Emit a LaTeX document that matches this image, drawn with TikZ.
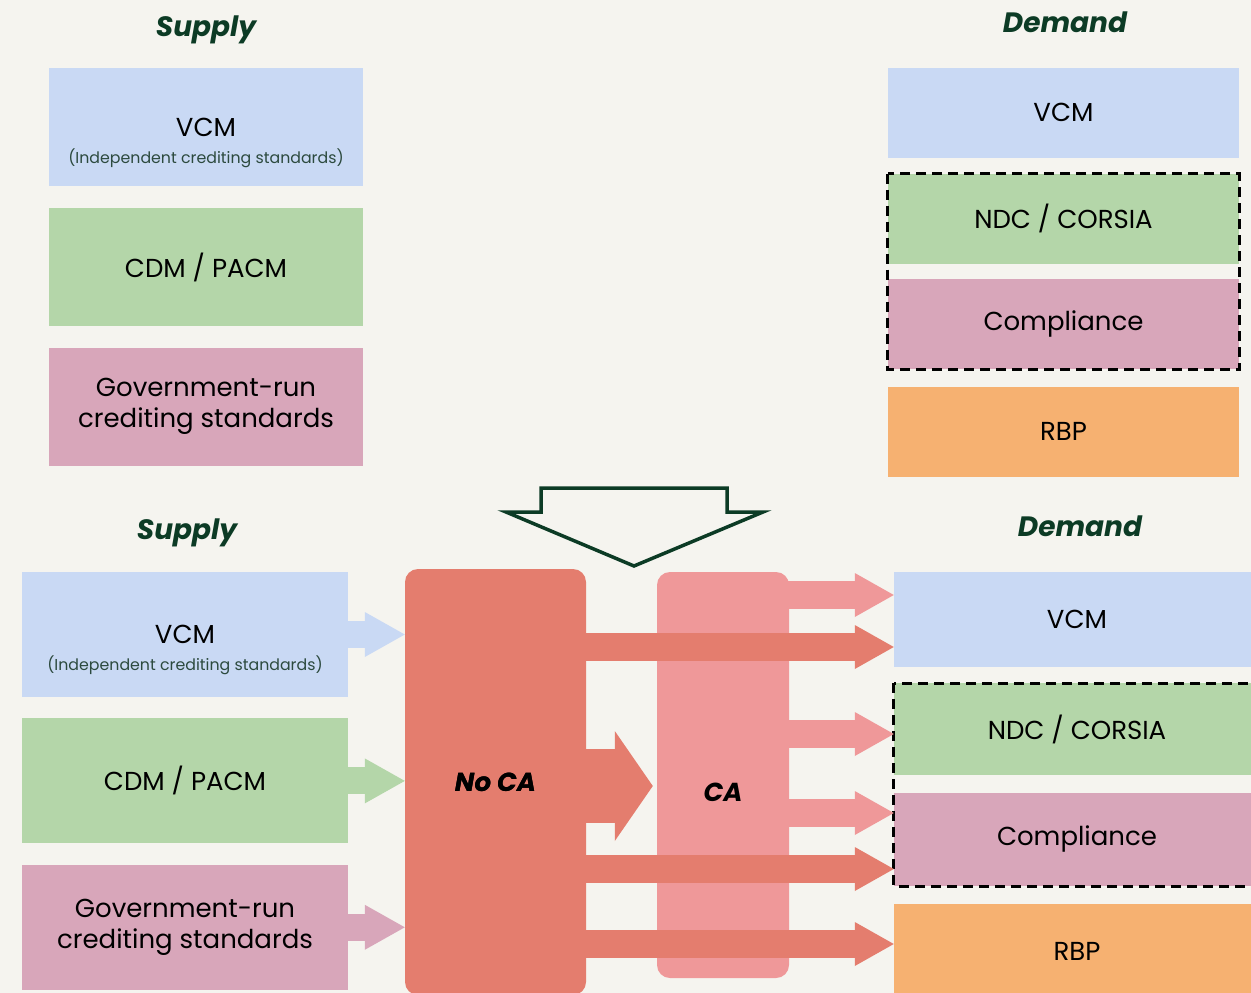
\documentclass[tikz,border=0pt]{standalone}
\usepackage{fontspec}
\setmainfont{Poppins}
\usetikzlibrary{positioning,arrows.meta}
\definecolor{mybg}{HTML}{F5F4EF}
\definecolor{myblue}{HTML}{C9D9F4}
\definecolor{mygreen}{HTML}{B4D6A9}
\definecolor{mypink}{HTML}{D8A6BA}
\definecolor{myorange}{HTML}{F6B171}
\definecolor{mysalmon}{HTML}{E47D6E}
\definecolor{myrose}{HTML}{EF9899}
\definecolor{mydark}{HTML}{0C3B25}
\definecolor{mysub}{HTML}{2C4A3E}

\begin{document}
\begin{tikzpicture}[x=1pt,y=-1pt,
  mkt/.style={rectangle,inner sep=0pt,align=center,font=\fontsize{26}{31}\selectfont},
  sbox/.style={mkt,minimum width=314pt,minimum height=118pt},
  dbox/.style={mkt,minimum width=351pt,minimum height=90pt},
  sbox2/.style={mkt,minimum width=326pt,minimum height=125pt},
  dbox2/.style={mkt,minimum width=366pt,minimum height=93pt},
  subtxt/.style={font=\fontsize{15.8}{19}\selectfont,text=mysub,yshift=-31pt},
  head/.style={font=\fontsize{28}{30}\selectfont\bfseries\itshape,text=mydark},
  block/.style={rectangle,rounded corners=13pt,inner sep=0pt,
    font=\fontsize{26}{30}\selectfont\bfseries\itshape},
  dashbox/.style={draw=black,line width=3pt,dash pattern=on 10pt off 6pt},
  flow/.style={line width=28pt,shorten <=-8pt,
    -{Triangle[length=39pt,width=44pt,line width=0pt]}},
  feed/.style={line width=27pt,-{Triangle[length=40pt,width=45pt,line width=0pt]}}]

  \useasboundingbox (0,0) rectangle (1251,993);
  \fill[mybg] (0,0) rectangle (1251,993);
  \clip (0,0) rectangle (1251,993);

  % before
  \node[head] (sup1) at (206,30) {Supply};
  \node[head] (dem1) at (1065,22) {Demand};

  \node[sbox,fill=myblue] (svcm1) at (206,127) {VCM};
  \node[subtxt] at (svcm1.center) {(Independent crediting standards)};
  \node[sbox,fill=mygreen,below=22pt of svcm1] (scdm1) {CDM / PACM};
  \node[sbox,fill=mypink,below=21pt of scdm1] (sgov1) {Government-run\\crediting standards};

  \node[dbox,fill=myblue] (dvcm1) at (1063.5,112.5) {VCM};
  \node[dbox,fill=mygreen,below=16pt of dvcm1] (dndc1) {NDC / CORSIA};
  \node[dbox,fill=mypink,below=15pt of dndc1] (dcomp1) {Compliance};
  \node[dbox,fill=myorange,below=17pt of dcomp1] (drbp1) {RBP};
  \draw[dashbox] (dndc1.north west) rectangle (dcomp1.south east);

  % big arrow
  \draw[mydark,line width=3.5pt,line join=miter]
    (541,488) -- (727,488) -- (727,512) -- (763,512) -- (634,566)
    -- (506,512) -- (541,512) -- cycle;

  % after
  \node[head] (sup2) at (187,533) {Supply};
  \node[head] (dem2) at (1080,526.5) {Demand};

  \node[sbox2,fill=myblue] (svcm2) at (185,634.5) {VCM};
  \node[subtxt] at (svcm2.center) {(Independent crediting standards)};
  \node[sbox2,fill=mygreen,below=21pt of svcm2] (scdm2) {CDM / PACM};
  \node[sbox2,fill=mypink,below=21pt of scdm2] (sgov2) {Government-run\\crediting standards};

  \node[dbox2,fill=myblue,minimum height=95pt] (dvcm2) at (1077,619.5) {VCM};
  \node[dbox2,fill=mygreen,minimum height=92pt,below=16pt of dvcm2] (dndc2) {NDC / CORSIA};
  \node[dbox2,fill=mypink,below=17pt of dndc2] (dcomp2) {Compliance};
  \node[dbox2,fill=myorange,minimum height=94pt,below=18pt of dcomp2] (drbp2) {RBP};
  \draw[dashbox] (dndc2.north west) rectangle (dcomp2.south east);

  \node[block,fill=myrose,minimum width=132pt,minimum height=406pt] (ca) at (723,775) {};
  \node[block] (calabel) at ([yshift=-17pt]ca.center) {CA};
  \node[block,fill=mysalmon,minimum width=181pt,minimum height=426pt] (noca) at (495.5,782) {No CA};

  % supply into No CA
  \draw[feed,myblue] (svcm2.east) -- (noca.west |- svcm2.east);
  \draw[feed,mygreen] (scdm2.east) -- (noca.west |- scdm2.east);
  \draw[feed,mypink] (sgov2.east) -- (noca.west |- sgov2.east);

  % CA to demand
  \draw[flow,myrose] (ca.east |- 0,595) -- (dvcm2.west |- 0,595);
  \draw[flow,myrose] (ca.east |- 0,734) -- (dndc2.west |- 0,734);
  \draw[flow,myrose] (ca.east |- 0,813) -- (dcomp2.west |- 0,813);

  % No CA to demand
  \draw[flow,mysalmon] (noca.east |- 0,647) -- (dvcm2.west |- 0,647);
  \draw[flow,mysalmon] (noca.east |- 0,869) -- (dcomp2.west |- 0,869);
  \draw[flow,mysalmon] (noca.east |- 0,944) -- (drbp2.west |- 0,944);
  \draw[mysalmon,line width=74pt,shorten <=-8pt,shorten >=4pt,
    -{Triangle[length=38pt,width=110pt,line width=0pt]}]
    (noca.east |- 0,786) -- (ca.west |- 0,786);
  \node[block] at (noca.center) {No CA};
\end{tikzpicture}
\end{document}
